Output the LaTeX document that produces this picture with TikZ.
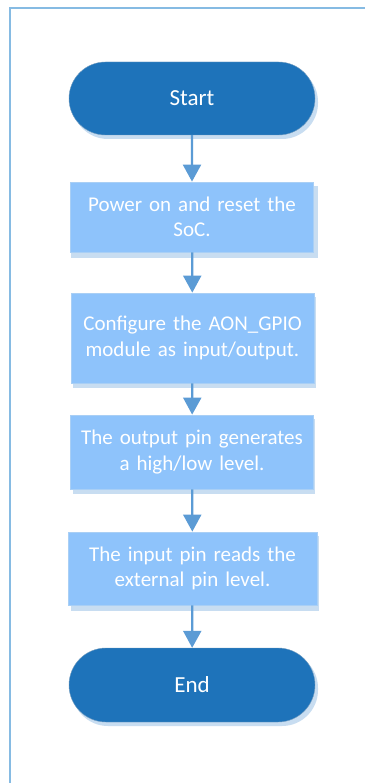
\documentclass[tikz,border=0pt]{standalone}
\usepackage{fontspec}
\setmainfont[WordSpace=0.8]{Carlito}
\usetikzlibrary{arrows.meta,shapes.misc}
\definecolor{termfill}{HTML}{1E73BA}
\definecolor{boxfill}{HTML}{8EC3FB}
\definecolor{boxdraw}{HTML}{A9CFF5}
\definecolor{shadowc}{HTML}{C8DDF1}
\definecolor{arrowc}{HTML}{5B9BD5}
\definecolor{framec}{HTML}{86BBE3}
\begin{document}
\begin{tikzpicture}[x=1pt,y=-1pt,
  term/.style={rounded rectangle, fill=termfill, draw=termfill!80!black!60!white, line width=0.4pt,
    minimum width=246pt, minimum height=73pt, text=white, font=\fontsize{23}{27}\selectfont,
    inner sep=0pt},
  stepbox/.style={rectangle, fill=boxfill, draw=boxdraw, line width=0.8pt,
    minimum width=243pt, text width=240pt, align=center, text=white,
    font=\fontsize{21}{25.5}\selectfont, inner sep=0pt},
  shad/.style={fill=shadowc, draw=none},
  flow/.style={draw=arrowc, line width=2.2pt, -{Triangle[width=18pt,length=17pt]}}]
\useasboundingbox (0,0) rectangle (364,783);
\fill[white] (0,0) rectangle (364,783);
\draw[framec, line width=2pt] (10,790) -- (10,8) -- (370,8);
% shadows
\fill[shad, rounded corners=36pt] (72,66) rectangle (318,139);
\fill[shad] (71,186) rectangle (318,258);
\fill[shad] (73,297) rectangle (316,388);
\fill[shad] (73,419) rectangle (315,494);
\fill[shad] (71,536) rectangle (319,611);
\fill[shad, rounded corners=36pt] (72,652) rectangle (318,726);
% nodes
\node[term] (start) at (192,98.5) {Start};
\node[stepbox, minimum height=70pt] (s1) at (192,217) {Power on and reset the\\SoC.};
\node[stepbox, minimum height=90pt] (s2) at (192.5,338) {Configure the AON\_GPIO\\module as input/output.};
\node[stepbox, minimum height=74pt] (s3) at (192,452) {The output pin generates\\a high/low level.};
\node[stepbox, minimum height=73pt, minimum width=249pt] (s4) at (192.5,568.5) {The input pin reads the\\external pin level.};
\node[term, minimum height=74pt] (end) at (192,685) {End};
% connectors
\draw[flow] (start) -- (s1);
\draw[flow] (s1) -- (s2);
\draw[flow] (s2) -- (s3);
\draw[flow] (s3) -- (s4);
\draw[flow] (s4) -- (end);
\end{tikzpicture}
\end{document}
